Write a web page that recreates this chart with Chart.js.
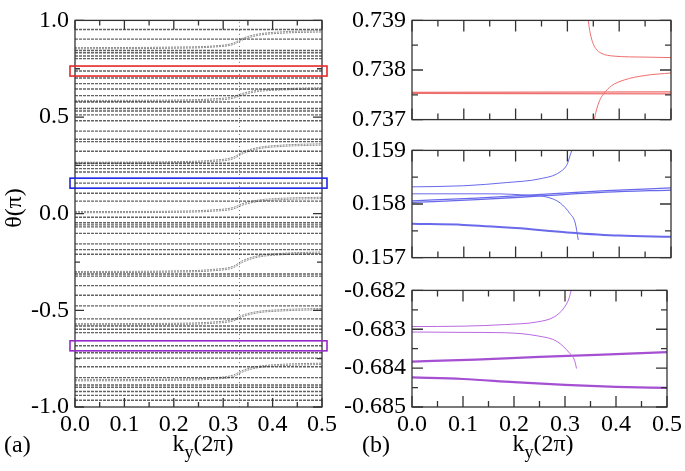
<!DOCTYPE html>
<html>
<head>
<meta charset="utf-8">
<script src="https://cdn.jsdelivr.net/npm/chart.js@4.4.1/dist/chart.umd.min.js"></script>
<style>
    body { margin: 0; width: 685px; height: 471px; background: #fff; position: relative; overflow: hidden; font-family: "Liberation Serif", "Times New Roman", serif; }
    canvas { position: absolute; }
    .lbl { position: absolute; font-size: 24px; line-height: 26px; color: #000; white-space: nowrap; text-align: center; }
    .lbl sub { font-size: 18px; vertical-align: -7px; line-height: 0; }
</style>
</head>
<body>
<canvas id="chartA" width="340" height="440" style="left:0;top:0"></canvas>
<canvas id="chartRed" width="340" height="140" style="left:345px;top:0"></canvas>
<canvas id="chartBlue" width="340" height="148" style="left:345px;top:130px"></canvas>
<canvas id="chartPurple" width="340" height="170" style="left:345px;top:270px"></canvas>

<div class="lbl" style="left:-17px;top:195px;width:60px;transform:rotate(-90deg)">θ(π)</div>
<div class="lbl" style="left:4px;top:431px;text-align:left">(a)</div>
<div class="lbl" style="left:148px;top:430px;width:110px">k<sub>y</sub>(2π)</div>
<div class="lbl" style="left:362px;top:431px;text-align:left">(b)</div>
<div class="lbl" style="left:488px;top:430px;width:110px">k<sub>y</sub>(2π)</div>

<script>
// ---- panel (a): Wilson-loop phases theta(pi) vs ky(2pi) ----
const kyTicks = [0, 0.1, 0.2, 0.3, 0.4, 0.5];
const singularKy = 0.333;

// flat bands, read at ky = 0
const levelsA = [0.953, 0.903, 0.844, 0.833, 0.816, 0.802, 0.738, 0.702, 0.673, 0.645,
    0.611, 0.578, 0.544, 0.531, 0.511, 0.481, 0.427, 0.385, 0.373, 0.323,
    0.261, 0.250, 0.233, 0.216, 0.158, 0.106, 0.065, -0.018, -0.047, -0.058,
    -0.068, -0.102, -0.156, -0.186, -0.210, -0.312, -0.323, -0.372, -0.422, -0.477,
    -0.544, -0.581, -0.598, -0.615, -0.6835, -0.719, -0.747, -0.792, -0.848, -0.886,
    -0.898, -0.920, -0.940, -0.965];

// bands that jump up around ky = 1/3 (each shows as a close pair)
const kyCurve = [0, 0.2, 0.28, 0.32, 0.34, 0.37, 0.42, 0.5];
const curveA1 = [0.853, 0.856, 0.862, 0.875, 0.900, 0.922, 0.934, 0.940];
const curveA1b = [0.859, 0.862, 0.868, 0.882, 0.908, 0.929, 0.941, 0.947];
const curveA2 = [0.580, 0.582, 0.587, 0.597, 0.615, 0.632, 0.640, 0.645];
const curveA2b = [0.586, 0.588, 0.594, 0.605, 0.623, 0.639, 0.647, 0.652];
const curveA3 = [0.260, 0.263, 0.270, 0.284, 0.311, 0.335, 0.348, 0.355];
const curveA3b = [0.266, 0.269, 0.277, 0.292, 0.319, 0.342, 0.355, 0.362];
const curveA4 = [0.005, 0.007, 0.013, 0.024, 0.045, 0.063, 0.073, 0.078];
const curveA4b = [0.011, 0.013, 0.020, 0.032, 0.053, 0.070, 0.080, 0.085];
const curveA5 = [-0.305, -0.302, -0.295, -0.280, -0.250, -0.225, -0.212, -0.205];
const curveA5b = [-0.299, -0.296, -0.288, -0.272, -0.242, -0.218, -0.205, -0.198];
const curveA6 = [-0.575, -0.573, -0.567, -0.555, -0.532, -0.513, -0.503, -0.497];
const curveA6b = [-0.569, -0.567, -0.560, -0.547, -0.524, -0.506, -0.496, -0.490];
const curveA7 = [-0.865, -0.862, -0.856, -0.843, -0.818, -0.797, -0.786, -0.780];
const curveA7b = [-0.859, -0.856, -0.849, -0.835, -0.810, -0.790, -0.779, -0.773];

// ---- panel (b) top: red window 0.737 .. 0.739 ----
const redRange = [0.737, 0.739];
const redFlatKy = [0, 0.5];
const redFlat1 = [0.73755, 0.73756];
const redFlat2 = [0.73753, 0.73752];
const redUpKy = [0.3395, 0.343, 0.348, 0.355, 0.365, 0.39, 0.45, 0.5];
const redUp = [0.73905, 0.7388, 0.73858, 0.73843, 0.73834, 0.73828, 0.73826, 0.73825];
const redLowKy = [0.351, 0.355, 0.362, 0.370, 0.385, 0.41, 0.45, 0.5];
const redLow = [0.73695, 0.73715, 0.73738, 0.73752, 0.73768, 0.73780, 0.73789, 0.73794];

// ---- panel (b) middle: blue window 0.157 .. 0.159 ----
const blueRange = [0.157, 0.159];
const blueUpKy = [0, 0.1, 0.183, 0.247, 0.286, 0.300, 0.305, 0.3085, 0.311];
const blueUp = [0.15832, 0.15834, 0.15840, 0.15847, 0.15860, 0.15875, 0.15890, 0.15900, 0.15910];
const blueDownKy = [0, 0.15, 0.23, 0.26, 0.286, 0.305, 0.315, 0.321];
const blueDown = [0.15819, 0.15819, 0.15816, 0.15813, 0.15802, 0.15782, 0.15765, 0.15733];
const blueBandKy = [0, 0.125, 0.25, 0.375, 0.5];
const blueBand1 = [0.15806, 0.15811, 0.15818, 0.15825, 0.15830];
const blueBand2 = [0.15803, 0.15808, 0.15815, 0.15822, 0.15826];
const blueLowKy = [0, 0.1, 0.2, 0.3, 0.4, 0.5];
const blueLow = [0.15763, 0.15761, 0.15755, 0.15747, 0.15741, 0.15739];

// ---- panel (b) bottom: purple window -0.685 .. -0.682 ----
const purpleRange = [-0.685, -0.682];
const purpleUpKy = [0, 0.1, 0.182, 0.246, 0.279, 0.298, 0.3077, 0.312, 0.314];
const purpleUp = [-0.68293, -0.68292, -0.68288, -0.68281, -0.68268, -0.68245, -0.68221, -0.68200, -0.68190];
const purpleDownKy = [0, 0.1, 0.182, 0.246, 0.285, 0.308, 0.319, 0.3226];
const purpleDown = [-0.68307, -0.68308, -0.68309, -0.68317, -0.68332, -0.68360, -0.68381, -0.68401];
const purpleBandKy = [0, 0.125, 0.25, 0.375, 0.5];
const purpleBand = [-0.68383, -0.68378, -0.68371, -0.68365, -0.68359];
const purpleLowKy = [0, 0.1, 0.2, 0.3, 0.4, 0.5];
const purpleLow = [-0.68424, -0.68428, -0.68436, -0.68443, -0.68448, -0.68451];

const RED = 'rgb(238,110,110)';
const BLUE = 'rgb(105,105,235)';
const PURPLE = 'rgb(185,105,225)';
const FONT = { family: '"Liberation Serif", "Times New Roman", serif', size: 24 };

function pts(xs, ys) {
    return xs.map((x, i) => ({ x: x, y: ys[i] }));
}

// all flat bands in one dataset, broken by gaps
function flatBands(levels) {
    const data = [];
    levels.forEach(v => {
        data.push({ x: kyTicks[0], y: v }, { x: kyTicks[kyTicks.length - 1], y: v }, { x: 0.25, y: null });
    });
    return data;
}

function line(data, color, width, extra) {
    return Object.assign({
        data: data,
        borderColor: color,
        borderWidth: width,
        pointRadius: 0,
        fill: false,
        spanGaps: false,
        cubicInterpolationMode: 'monotone'
    }, extra || {});
}

/**
 * Frame with inward ticks on all four sides, plus zoom windows
 */
const framePlugin = {
    id: 'frame',
    afterDatasetsDraw(chart, args, opts) {
        const { ctx, chartArea: a, scales: { x, y } } = chart;
        ctx.save();
        ctx.strokeStyle = '#333';
        ctx.lineWidth = 1.3;
        ctx.strokeRect(a.left, a.top, a.right - a.left, a.bottom - a.top);

        const drawTicks = (scale, major, minor, horizontal) => {
            const n = Math.round((scale.max - scale.min) / minor);
            for (let i = 0; i <= n; i++) {
                const v = scale.min + i * minor;
                const isMajor = Math.abs(v / major - Math.round(v / major)) < 1e-6;
                const len = isMajor ? opts.majorLen : opts.minorLen;
                const p = scale.getPixelForValue(v);
                ctx.beginPath();
                if (horizontal) {
                    ctx.moveTo(p, a.bottom); ctx.lineTo(p, a.bottom - len);
                    ctx.moveTo(p, a.top); ctx.lineTo(p, a.top + len);
                } else {
                    ctx.moveTo(a.left, p); ctx.lineTo(a.left + len, p);
                    ctx.moveTo(a.right, p); ctx.lineTo(a.right - len, p);
                }
                ctx.stroke();
            }
        };
        drawTicks(x, opts.xMajor, opts.xMinor, true);
        drawTicks(y, opts.yMajor, opts.yMinor, false);

        (opts.boxes || []).forEach(b => {
            const c = y.getPixelForValue((b.range[0] + b.range[1]) / 2);
            ctx.strokeStyle = b.color;
            ctx.lineWidth = 1.6;
            ctx.strokeRect(a.left - 5, c - 5, a.right - a.left + 10, 10);
        });
        ctx.restore();
    }
};

function makeChart(id, datasets, cfg) {
    return new Chart(document.getElementById(id), {
        type: 'line',
        data: { datasets: datasets },
        options: {
            responsive: false,
            animation: false,
            events: [],
            layout: { padding: cfg.padding },
            plugins: {
                legend: { display: false },
                tooltip: { enabled: false },
                frame: cfg.frame
            },
            scales: {
                x: {
                    type: 'linear',
                    min: 0, max: 0.5,
                    grid: { display: false, drawTicks: false },
                    border: { display: false },
                    afterFit: s => { s.height = cfg.xHeight; },
                    ticks: {
                        display: cfg.xLabels,
                        stepSize: 0.1,
                        autoSkip: false,
                        maxRotation: 0,
                        padding: 3,
                        color: '#000',
                        font: FONT,
                        callback: v => v.toFixed(1)
                    }
                },
                y: {
                    type: 'linear',
                    min: cfg.yMin, max: cfg.yMax,
                    grid: { display: false, drawTicks: false },
                    border: { display: false },
                    afterFit: s => { s.width = cfg.yWidth; },
                    ticks: {
                        stepSize: cfg.yStep,
                        autoSkip: false,
                        padding: 6,
                        color: '#000',
                        font: FONT,
                        callback: v => v.toFixed(cfg.yDigits)
                    }
                }
            }
        },
        plugins: [framePlugin]
    });
}

// panel (a)
const grey = 'rgba(45,45,45,0.75)';
const curvesA = [curveA1, curveA1b, curveA2, curveA2b, curveA3, curveA3b, curveA4, curveA4b,
    curveA5, curveA5b, curveA6, curveA6b, curveA7, curveA7b];
const datasetsA = [line(flatBands(levelsA), grey, 1.4, { borderDash: [3, 1] })];
curvesA.forEach(c => datasetsA.push(line(pts(kyCurve, c), 'rgba(70,70,70,0.7)', 0.9, { borderDash: [2, 1] })));
datasetsA.push(line(pts([singularKy, singularKy], [-1, 1]), 'rgba(80,80,80,0.8)', 1, { borderDash: [1, 3] }));

function drawAll() {
    makeChart('chartA', datasetsA, {
        padding: { top: 9, right: 8, left: 0, bottom: 0 },
        xHeight: 33, yWidth: 75, xLabels: true,
        yMin: -1, yMax: 1, yStep: 0.5, yDigits: 1,
        frame: {
            xMajor: 0.1, xMinor: 0.05, yMajor: 0.5, yMinor: 0.25, majorLen: 9, minorLen: 5,
            boxes: [
                { range: redRange, color: 'rgb(230,40,40)' },
                { range: blueRange, color: 'rgb(30,40,230)' },
                { range: purpleRange, color: 'rgb(150,40,200)' }
            ]
        }
    });

    const frameB = { xMajor: 0.1, xMinor: 0.05, yMajor: 0.001, yMinor: 0.0005, majorLen: 11, minorLen: 6 };

    makeChart('chartRed', [
        line(pts(redFlatKy, redFlat1), RED, 1.3),
        line(pts(redFlatKy, redFlat2), RED, 1.3),
        line(pts(redUpKy, redUp), RED, 1),
        line(pts(redLowKy, redLow), RED, 1)
    ], {
        padding: { top: 9, right: 14, left: 0, bottom: 0 },
        xHeight: 14, yWidth: 67, xLabels: false,
        yMin: redRange[0], yMax: redRange[1], yStep: 0.001, yDigits: 3,
        frame: frameB
    });

    makeChart('chartBlue', [
        line(pts(blueUpKy, blueUp), BLUE, 1),
        line(pts(blueDownKy, blueDown), BLUE, 1),
        line(pts(blueBandKy, blueBand1), BLUE, 1.3),
        line(pts(blueBandKy, blueBand2), BLUE, 1.3),
        line(pts(blueLowKy, blueLow), BLUE, 2)
    ], {
        padding: { top: 20, right: 14, left: 0, bottom: 0 },
        xHeight: 12, yWidth: 67, xLabels: false,
        yMin: blueRange[0], yMax: blueRange[1], yStep: 0.001, yDigits: 3,
        frame: frameB
    });

    makeChart('chartPurple', [
        line(pts(purpleUpKy, purpleUp), PURPLE, 1),
        line(pts(purpleDownKy, purpleDown), PURPLE, 1),
        line(pts(purpleBandKy, purpleBand), 'rgb(165,80,210)', 2.2),
        line(pts(purpleLowKy, purpleLow), 'rgb(165,80,210)', 2.2)
    ], {
        padding: { top: 15, right: 14, left: 0, bottom: 0 },
        xHeight: 33, yWidth: 67, xLabels: true,
        yMin: purpleRange[0], yMax: purpleRange[1], yStep: 0.001, yDigits: 3,
        frame: frameB
    });
}

// make sure the serif face is ready before the canvases use it
document.fonts.load('24px "Liberation Serif"').then(drawAll, drawAll);
</script>
</body>
</html>
